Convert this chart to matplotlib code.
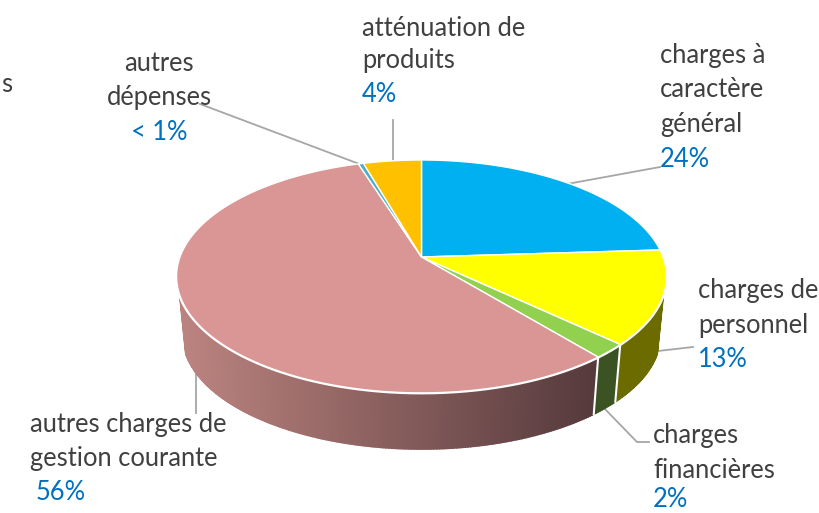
import matplotlib
matplotlib.use('Agg')
import matplotlib.pyplot as plt
from matplotlib.colors import to_rgb
import numpy as np

plt.rcParams['font.family'] = ['Lato', 'DejaVu Sans']

# parts of the pie, clockwise from 12 o'clock
categories = ['charges à caractère général', 'charges de personnel', 'charges financières',
              'autres charges de gestion courante', 'autres dépenses', 'atténuation de produits']
values = [24.0, 13.0, 2.0, 56.1, 0.4, 4.5]
top_colors = ['#00B0F0', '#FFFF00', '#92D050', '#D99694', '#4BACC6', '#FFC000']
side_colors = [('#006F97', '#006F97'), ('#6B6B00', '#6B6B00'), ('#3B5323', '#3B5323'),
               ('#BC8480', '#563A3C'), ('#2F6C7C', '#2F6C7C'), ('#A07800', '#A07800')]

# label lines: text, x, baseline y, horizontal align, colour
text_lines = [
    ('s', 1, 92, 'left', '#404040'),
    ('atténuation de', 362, 36, 'left', '#404040'),
    ('produits', 362, 68, 'left', '#404040'),
    ('4%', 362, 102, 'left', '#0070C0'),
    ('autres', 159, 71, 'center', '#404040'),
    ('dépenses', 159, 105, 'center', '#404040'),
    ('< 1%', 159, 140, 'center', '#0070C0'),
    ('charges à', 660, 63, 'left', '#404040'),
    ('caractère', 660, 97, 'left', '#404040'),
    ('général', 660, 132, 'left', '#404040'),
    ('24%', 660, 167, 'left', '#0070C0'),
    ('charges de', 698, 298, 'left', '#404040'),
    ('personnel', 698, 333, 'left', '#404040'),
    ('13%', 698, 367, 'left', '#0070C0'),
    ('charges', 653, 443, 'left', '#404040'),
    ('financières', 653, 478, 'left', '#404040'),
    ('2%', 653, 507, 'left', '#0070C0'),
    ('autres charges de', 30, 432, 'left', '#404040'),
    ('gestion courante', 30, 466, 'left', '#404040'),
    ('56%', 36, 500, 'left', '#0070C0'),
]

# leader lines
leaders = [
    ([393, 393], [120, 162]),
    ([200, 362], [104, 165]),
    ([567, 660], [184, 167]),
    ([658, 693], [351, 347]),
    ([603, 637, 649], [407, 442, 442]),
    ([196, 196], [368, 413]),
]


def project(theta, scale=1.0, y0=257.0):
    # tilted disc in perspective, theta clockwise from the top
    u, v = np.sin(theta), np.cos(theta)
    w = 1 + 0.167 * v
    return 421.5 + scale * 241.5 * u / w, y0 - scale * 113.2 * v / w


fig = plt.figure(figsize=(8.2, 5.13), dpi=100)
ax = fig.add_axes([0, 0, 1, 1])
ax.set_xlim(0, 820)
ax.set_ylim(513, 0)
ax.axis('off')

for xs, ys in leaders:
    ax.plot(xs, ys, color='#A6A6A6', lw=1.3, zorder=1)

edges = np.cumsum([0] + values) / sum(values) * 2 * np.pi
side_start, side_end = np.radians(108.5), np.radians(251.5)

# side wall, cut in thin strips for the gradient
for i in range(len(values)):
    a = max(edges[i], side_start)
    b = min(edges[i + 1], side_end)
    if b <= a:
        continue
    th = np.linspace(a, b, max(2, int((b - a) * 100)))
    c0, c1 = np.array(to_rgb(side_colors[i][0])), np.array(to_rgb(side_colors[i][1]))
    xt, yt = project(th)
    xb, yb = project(th, 0.975, 316.5)
    for j in range(len(th) - 1):
        f = (xt[j] - 177) / (596 - 177)
        col = c0 + (c1 - c0) * np.clip(f, 0, 1)
        ax.fill([xt[j], xt[j + 1], xb[j + 1], xb[j]], [yt[j], yt[j + 1], yb[j + 1], yb[j]],
                color=col, lw=1.2, zorder=2)
    # white seam at the slice border
    if a > side_start:
        ax.plot([xt[0], xb[0]], [yt[0], yb[0]], color='white', lw=1.5, zorder=3)

# rim under the top face
th = np.linspace(side_start, side_end, 200)
ax.plot(*project(th), color='white', lw=2.2, zorder=3)

# top face
for i in range(len(values)):
    th = np.linspace(edges[i], edges[i + 1], 120)
    x, y = project(th)
    ax.fill(np.r_[421.5, x], np.r_[257, y], facecolor=top_colors[i], edgecolor='white',
            lw=1.0, joinstyle='round', zorder=4)

for txt, x, y, ha, col in text_lines:
    ax.text(x, y, txt, ha=ha, va='baseline', fontsize=18.4, color=col, zorder=5)

fig.savefig('out.png', dpi=100)
